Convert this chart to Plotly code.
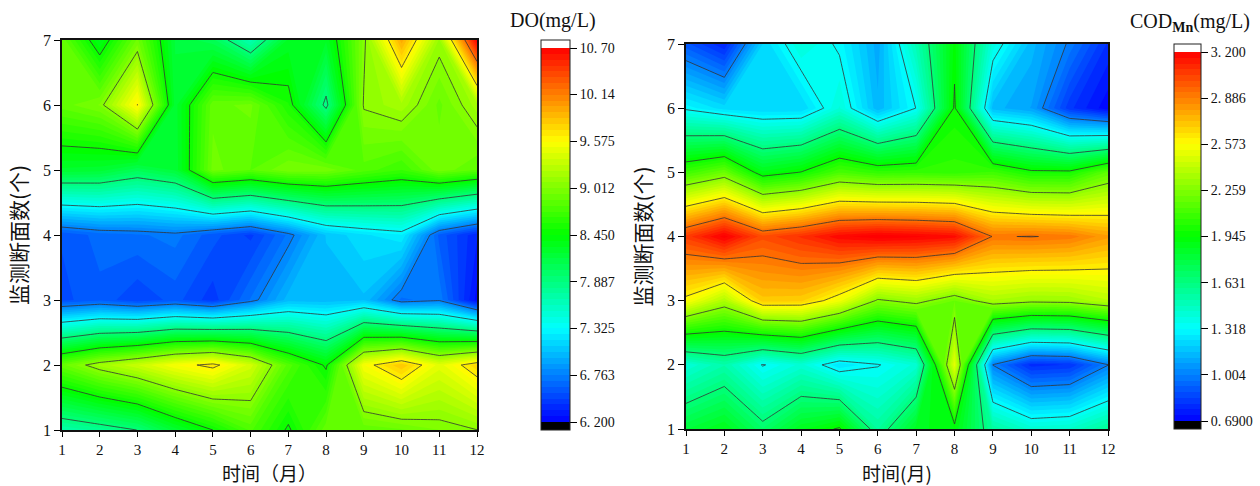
import plotly.graph_objects as go

W, H = 1260, 486
months = list(range(1, 13))
sections = list(range(1, 8))

# DO (mg/L), one list per section (y = 1..7), one value per month
do_s1 = [7.68, 7.77, 7.89, 8.20, 8.45, 8.75, 8.42, 8.85, 8.82, 8.86, 8.94, 9.01]
do_s2 = [8.85, 9.11, 9.29, 9.50, 9.63, 9.33, 8.77, 8.42, 9.50, 9.78, 9.40, 9.70]
do_s3 = [6.53, 6.60, 6.49, 6.58, 6.44, 6.70, 7.01, 7.00, 7.03, 6.67, 6.74, 6.24]
do_s4 = [6.56, 6.65, 6.68, 6.72, 6.58, 6.46, 6.71, 7.05, 7.17, 7.25, 6.60, 6.35]
do_s5 = [8.22, 8.20, 8.05, 8.18, 8.90, 8.80, 8.93, 8.92, 8.77, 8.66, 8.92, 8.80]
do_s6 = [8.84, 8.95, 9.58, 8.20, 8.85, 8.89, 8.53, 7.83, 9.03, 9.13, 8.85, 9.12]
do_s7 = [8.85, 8.30, 8.89, 8.16, 8.05, 7.64, 8.26, 8.25, 8.97, 9.90, 9.07, 10.64]

# CODMn (mg/L)
cod_s1 = [1.785, 1.87, 1.675, 1.86, 1.96, 1.55, 1.85, 1.90, 1.545, 1.42, 1.44, 1.565]
cod_s2 = [1.40, 1.51, 1.31, 1.41, 1.24, 1.31, 1.41, 2.48, 1.00, 0.79, 0.81, 1.00]
cod_s3 = [2.54, 2.34, 2.67, 2.66, 2.51, 2.24, 2.30, 2.18, 2.33, 2.29, 2.30, 2.37]
cod_s4 = [3.02, 3.18, 2.98, 3.05, 3.15, 3.19, 3.17, 3.14, 2.88, 2.89, 2.87, 2.78]
cod_s5 = [2.07, 2.18, 1.88, 1.95, 2.10, 2.04, 2.05, 2.04, 2.07, 1.97, 1.97, 2.15]
cod_s6 = [1.30, 1.22, 1.20, 1.20, 1.40, 1.13, 1.32, 1.96, 1.14, 1.08, 0.82, 0.70]
cod_s7 = [0.90, 0.77, 1.20, 1.40, 1.30, 1.10, 1.49, 1.92, 1.38, 1.14, 0.99, 0.80]

do_z = [do_s1, do_s2, do_s3, do_s4, do_s5, do_s6, do_s7]
cod_z = [cod_s1, cod_s2, cod_s3, cod_s4, cod_s5, cod_s6, cod_s7]

do_ticks = [6.2, 6.763, 7.325, 7.887, 8.45, 9.012, 9.575, 10.14, 10.7]
do_ticktext = ["6. 200", "6. 763", "7. 325", "7. 887", "8. 450", "9. 012", "9. 575", "10. 14", "10. 70"]
cod_ticks = [0.69, 1.004, 1.318, 1.631, 1.945, 2.259, 2.573, 2.886, 3.2]
cod_ticktext = ["0. 6900", "1. 004", "1. 318", "1. 631", "1. 945", "2. 259", "2. 573", "2. 886", "3. 200"]

SERIF = "Liberation Serif, Noto Sans CJK SC, serif"
CJK = "Noto Sans CJK SC, Liberation Serif, serif"
HUES = [(0, 0, 255), (0, 255, 255), (0, 255, 0), (255, 255, 0), (255, 0, 0)]
BANDS = 64


def jet(t):
    p = min(max(t, 0), 1) * 4
    i = min(int(p), 3)
    f = p - i
    a, b = HUES[i], HUES[i + 1]
    return "rgb(%d,%d,%d)" % tuple(round(a[k] + (b[k] - a[k]) * f) for k in range(3))


def stepped(lo, hi, cap):
    """Banded scale for the legend bar: black below lo, white above hi."""
    zmin, zmax = lo - cap, hi + cap
    span = zmax - zmin
    step = (hi - lo) / BANDS
    edge = lambda v: (v - zmin) / span
    stops = [[0, "#000"], [edge(lo), "#000"]]
    for i in range(BANDS):
        c = jet((i + 0.5) / BANDS)
        stops += [[edge(lo + i * step), c], [edge(lo + (i + 1) * step), c]]
    stops += [[edge(hi), "#fff"], [1, "#fff"]]
    return stops, zmin, zmax


def add_panel(fig, z, xa, ya, ticks, text, bar_left, bar_w, top, bottom):
    lo, hi = ticks[0], ticks[-1]
    size = (hi - lo) / BANDS
    jet_scale = [[i / 8, jet(i / 8)] for i in range(9)]
    fig.add_trace(go.Contour(
        x=months, y=sections, z=z, xaxis=xa, yaxis=ya, showscale=False,
        colorscale=jet_scale, zmin=lo, zmax=hi, autocontour=False,
        contours=dict(coloring="fill", start=lo, end=hi - size / 2, size=size, showlines=False),
        line=dict(width=0, smoothing=0),
    ))
    step = (hi - lo) / 8
    fig.add_trace(go.Contour(
        x=months, y=sections, z=z, xaxis=xa, yaxis=ya, showscale=False, hoverinfo="skip",
        autocontour=False,
        contours=dict(coloring="none", start=lo + step, end=hi - step + 1e-6, size=step),
        line=dict(color="#333333", width=0.8, smoothing=0),
    ))
    cap = (hi - lo) * 8 / (bottom - top - 16)
    stops, zmin, zmax = stepped(lo, hi, cap)
    fig.add_trace(go.Scatter(
        x=[None], y=[None], xaxis=xa, yaxis=ya, mode="markers", hoverinfo="skip",
        marker=dict(
            color=[lo], colorscale=stops, cmin=zmin, cmax=zmax, showscale=True,
            colorbar=dict(
                x=bar_left / W, xanchor="left", xpad=0, thickness=bar_w, thicknessmode="pixels",
                y=1 - top / H, yanchor="top", ypad=0, len=bottom - top, lenmode="pixels",
                tickmode="array", tickvals=ticks, ticktext=text, ticks="outside", ticklen=7,
                tickwidth=1, tickcolor="#000", outlinewidth=1, outlinecolor="#222",
                tickfont=dict(family=SERIF, size=14, color="#111"),
            ),
        ),
    ))


fig = go.Figure()
add_panel(fig, do_z, "x", "y", do_ticks, do_ticktext, 541, 29, 40, 430)
add_panel(fig, cod_z, "x2", "y2", cod_ticks, cod_ticktext, 1174, 27, 44, 429)

axis_common = dict(
    ticks="outside", ticklen=6, tickwidth=1, tickcolor="#000", showline=True, linecolor="#111",
    linewidth=1.5, mirror=True, showgrid=False, zeroline=False,
    tickfont=dict(family=SERIF, size=16, color="#111"), tickmode="array",
)
xcommon = dict(axis_common, range=[1, 12], tickvals=months, ticklen=5,
               tickfont=dict(family=SERIF, size=15, color="#111"))
ycommon = dict(axis_common, range=[1, 7], tickvals=sections)
tf = dict(family=CJK, size=21, color="#111")
tfx = dict(family=CJK, size=19, color="#111")

fig.update_layout(
    width=W, height=H, margin=dict(l=0, r=0, t=0, b=0, autoexpand=False), autosize=False,
    paper_bgcolor="#fff", plot_bgcolor="#fff", showlegend=False,
    xaxis=dict(xcommon, domain=[62 / W, 477 / W], anchor="y"),
    yaxis=dict(ycommon, domain=[1 - 430 / H, 1 - 40 / H], anchor="x",
               title=dict(text="监测断面数(个)", font=tf, standoff=10)),
    xaxis2=dict(xcommon, domain=[686 / W, 1108 / W], anchor="y2"),
    yaxis2=dict(ycommon, domain=[1 - 429 / H, 1 - 44 / H], anchor="x2",
                title=dict(text="监测断面数(个)", font=tf, standoff=10)),
    annotations=[
        dict(text="时间（月）", x=269.5 / W, y=1 - 472 / H, xref="paper", yref="paper", showarrow=False,
             xanchor="center", yanchor="middle", font=tfx),
        dict(text="时间(月)", x=897 / W, y=1 - 472 / H, xref="paper", yref="paper", showarrow=False,
             xanchor="center", yanchor="middle", font=tfx),
        dict(text="DO(mg/L)", x=553 / W, y=1 - 20 / H, xref="paper", yref="paper", showarrow=False,
             xanchor="center", yanchor="middle", font=dict(family=SERIF, size=20, color="#111")),
        dict(text="COD<sub><b>Mn</b></sub>(mg/L)", x=1190 / W, y=1 - 22 / H, xref="paper", yref="paper",
             xanchor="center", yanchor="middle", showarrow=False, font=dict(family=SERIF, size=20, color="#111")),
    ],
)

fig.write_html("out.html", config={"displayModeBar": False},
               post_script="document.body.style.margin='0';document.body.style.overflow='hidden';")
